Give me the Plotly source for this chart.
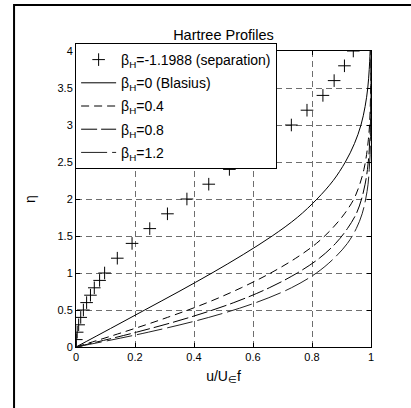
import plotly.graph_objects as go

# ---- data ----
eta_sep = [0, 0.1, 0.2, 0.3, 0.4, 0.5, 0.6, 0.7, 0.8, 0.9, 1.0, 1.2, 1.4, 1.6, 1.8,
           2.0, 2.2, 2.4, 2.6, 2.8, 3.0, 3.2, 3.4, 3.6, 3.8, 4.0]
u_sep = [0, 0.001, 0.004, 0.009, 0.016, 0.025, 0.036, 0.049, 0.062, 0.08, 0.097, 0.14, 0.19,
         0.25, 0.31, 0.376, 0.45, 0.52, 0.59, 0.66, 0.73, 0.783, 0.837, 0.875, 0.91, 0.94]

eta_bl = [0, 0.25, 0.5, 0.75, 1.0, 1.25, 1.5, 1.75, 2.0, 2.25, 2.5, 2.75, 3.0, 3.25, 3.5, 3.75, 4.0]
u_bl = [0, 0.117, 0.233, 0.349, 0.461, 0.567, 0.665, 0.75, 0.817, 0.872, 0.913, 0.944,
        0.966, 0.98, 0.989, 0.994, 0.997]

eta_fs = [0, 0.2, 0.4, 0.6, 0.8, 1.0, 1.2, 1.4, 1.6, 1.8, 2.0, 2.2, 2.4, 2.6, 2.8, 3.0, 3.5, 4.0]
u_b04 = [0, 0.16, 0.31, 0.445, 0.56, 0.66, 0.745, 0.815, 0.868, 0.91, 0.942, 0.962, 0.976,
         0.985, 0.991, 0.995, 0.999, 1.0]
u_b08 = [0, 0.205, 0.385, 0.535, 0.655, 0.75, 0.825, 0.88, 0.92, 0.95, 0.968, 0.98, 0.988,
         0.993, 0.996, 0.998, 1.0, 1.0]
u_b12 = [0, 0.245, 0.45, 0.61, 0.73, 0.815, 0.875, 0.92, 0.95, 0.97, 0.982, 0.99, 0.994,
         0.997, 0.998, 0.999, 1.0, 1.0]

x_ticks = [0, 0.2, 0.4, 0.6, 0.8, 1]
x_ticklabels = ["0", "0.2", "0.4", "0.6", "0.8", "1"]
y_ticks = [0, 0.5, 1, 1.5, 2, 2.5, 3, 3.5, 4]
y_ticklabels = ["0", "0.5", "1", "1.5", "2", "2.5", "3", "3.5", "4"]

FONT = "Liberation Sans, Arial, Helvetica, sans-serif"

fig = go.Figure()
fig.add_trace(go.Scatter(
    x=u_sep, y=eta_sep, mode="markers", legendgroup="g1",
    name="β<sub>H</sub>=-1.1988 (separation)",
    marker=dict(symbol="cross-thin-open", size=9, color="black",
                line=dict(color="black", width=1)),
))
fig.add_trace(go.Scatter(
    x=u_bl, y=eta_bl, mode="lines", line_shape="spline", legendgroup="g2",
    name="β<sub>H</sub>=0 (Blasius)",
    line=dict(color="black", width=1),
))
fig.add_trace(go.Scatter(
    x=u_b04, y=eta_fs, mode="lines", line_shape="spline", legendgroup="g3",
    name="β<sub>H</sub>=0.4",
    line=dict(color="black", width=1, dash="8px,5px"),
))
fig.add_trace(go.Scatter(
    x=u_b08, y=eta_fs, mode="lines", line_shape="spline", legendgroup="g4",
    name="β<sub>H</sub>=0.8",
    line=dict(color="black", width=1, dash="16px,4px"),
))
fig.add_trace(go.Scatter(
    x=u_b12, y=eta_fs, mode="lines", line_shape="spline", legendgroup="g5",
    name="β<sub>H</sub>=1.2",
    line=dict(color="#222222", width=1, dash="26px,5px"),
))

axis_common = dict(
    showline=True, linecolor="black", linewidth=1, mirror="ticks",
    ticks="inside", ticklen=4, tickcolor="black",
    showgrid=True, gridcolor="#6e6e6e", gridwidth=1, griddash="6px,4px",
    zeroline=False, tickfont=dict(family=FONT, size=11, color="black"),
)

fig.update_xaxes(range=[0, 1], tickvals=x_ticks, ticktext=x_ticklabels,
                 title=dict(text="u/U<sub>∈</sub>f", font=dict(family=FONT, size=14, color="black"),
                            standoff=8),
                 **axis_common)
fig.update_yaxes(range=[0, 4], tickvals=y_ticks, ticktext=y_ticklabels,
                 title=dict(text="η", font=dict(family=FONT, size=14, color="black"),
                            standoff=18),
                 **axis_common)

fig.update_layout(
    width=411, height=408,
    margin=dict(l=76, r=40, t=51, b=61),
    paper_bgcolor="white", plot_bgcolor="white",
    font=dict(family=FONT, size=12, color="black"),
    title=dict(text="Hartree Profiles", x=0.5, xref="paper", xanchor="center",
               y=1.0, yref="paper", yanchor="bottom", pad=dict(b=11),
               font=dict(family=FONT, size=14.5, color="black")),
    showlegend=True,
    legend=dict(x=-0.003, y=1.027, xanchor="left", yanchor="top",
                bgcolor="white", bordercolor="black", borderwidth=1,
                font=dict(family=FONT, size=14, color="black"),
                tracegroupgap=2, itemwidth=35),
    shapes=[dict(type="rect", xref="paper", yref="paper",
                 x0=-0.21, y0=-0.3, x1=1.4, y1=1.155,
                 line=dict(color="black", width=2), fillcolor="rgba(0,0,0,0)",
                 layer="above")],
)

fig.write_html("out.html")
